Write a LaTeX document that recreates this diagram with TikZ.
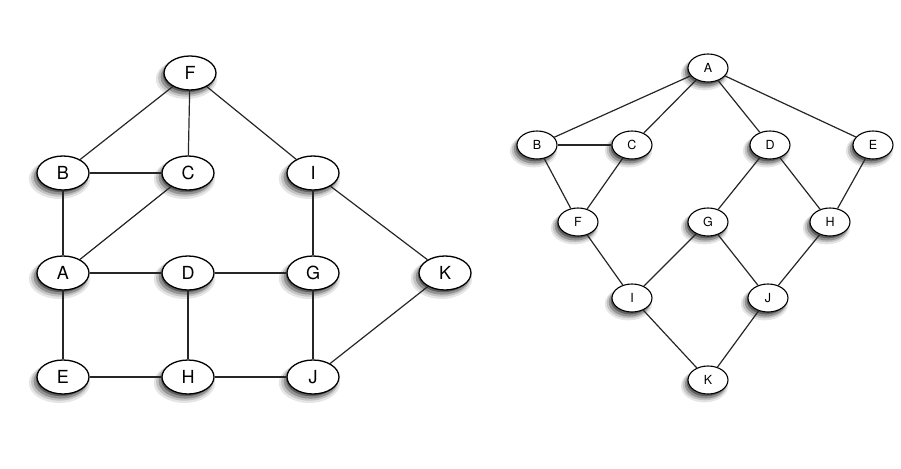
\documentclass[tikz,border=0pt]{standalone}
\usepackage{fontspec}
\setmainfont{TeX Gyre Heros}
\usetikzlibrary{shapes.geometric,shadows}
\tikzset{
  shd/.style={
    drop shadow={shadow xshift=-3pt,shadow yshift=-5pt,shadow scale=1.18,opacity=0.10,fill=black},
    drop shadow={shadow xshift=-3pt,shadow yshift=-4.5pt,shadow scale=1.10,opacity=0.15,fill=black},
    drop shadow={shadow xshift=-2.5pt,shadow yshift=-4pt,shadow scale=1.03,opacity=0.25,fill=black},
    drop shadow={shadow xshift=-2pt,shadow yshift=-3pt,shadow scale=0.96,opacity=0.35,fill=black}},
  bignode/.style={ellipse,draw,line width=1.3pt,fill=white,minimum width=52pt,minimum height=34pt,inner sep=0pt,font=\fontsize{18}{18}\selectfont,shd},
  smallnode/.style={ellipse,draw,line width=1.1pt,fill=white,minimum width=40pt,minimum height=28pt,inner sep=0pt,font=\fontsize{12.5}{12.5}\selectfont,shd},
  edge/.style={line width=1.2pt,black!85}
}
\begin{document}
\begin{tikzpicture}[x=1pt,y=-1pt]
\useasboundingbox (0,0) rectangle (901,468);
% left graph
\node[bignode] (lF) at (190,73) {F};
\node[bignode] (lB) at (63,173) {B};
\node[bignode] (lC) at (188,173) {C};
\node[bignode] (lI) at (313,173) {I};
\node[bignode] (lA) at (63,273) {A};
\node[bignode] (lD) at (188,273) {D};
\node[bignode] (lG) at (313,273) {G};
\node[bignode] (lK) at (445,273) {K};
\node[bignode] (lE) at (63,377) {E};
\node[bignode] (lH) at (188,377) {H};
\node[bignode] (lJ) at (313,377) {J};
% right graph
\node[smallnode] (rA) at (708,68) {A};
\node[smallnode] (rB) at (537,145) {B};
\node[smallnode] (rC) at (632,145) {C};
\node[smallnode] (rD) at (770,145) {D};
\node[smallnode] (rE) at (873,145) {E};
\node[smallnode] (rF) at (578,222) {F};
\node[smallnode] (rG) at (708,222) {G};
\node[smallnode] (rH) at (830,222) {H};
\node[smallnode] (rI) at (632,298) {I};
\node[smallnode] (rJ) at (768,298) {J};
\node[smallnode] (rK) at (708,380) {K};
\foreach \a/\b in {lF/lB,lF/lC,lF/lI,lB/lC,lB/lA,lC/lA,lI/lG,lI/lK,lA/lD,lD/lG,lA/lE,lD/lH,lG/lJ,lE/lH,lH/lJ,lJ/lK,
  rA/rB,rA/rC,rA/rD,rA/rE,rB/rC,rB/rF,rC/rF,rD/rG,rD/rH,rE/rH,rF/rI,rG/rI,rG/rJ,rH/rJ,rI/rK,rJ/rK}
  \draw[edge] (\a) -- (\b);
\end{tikzpicture}
\end{document}
